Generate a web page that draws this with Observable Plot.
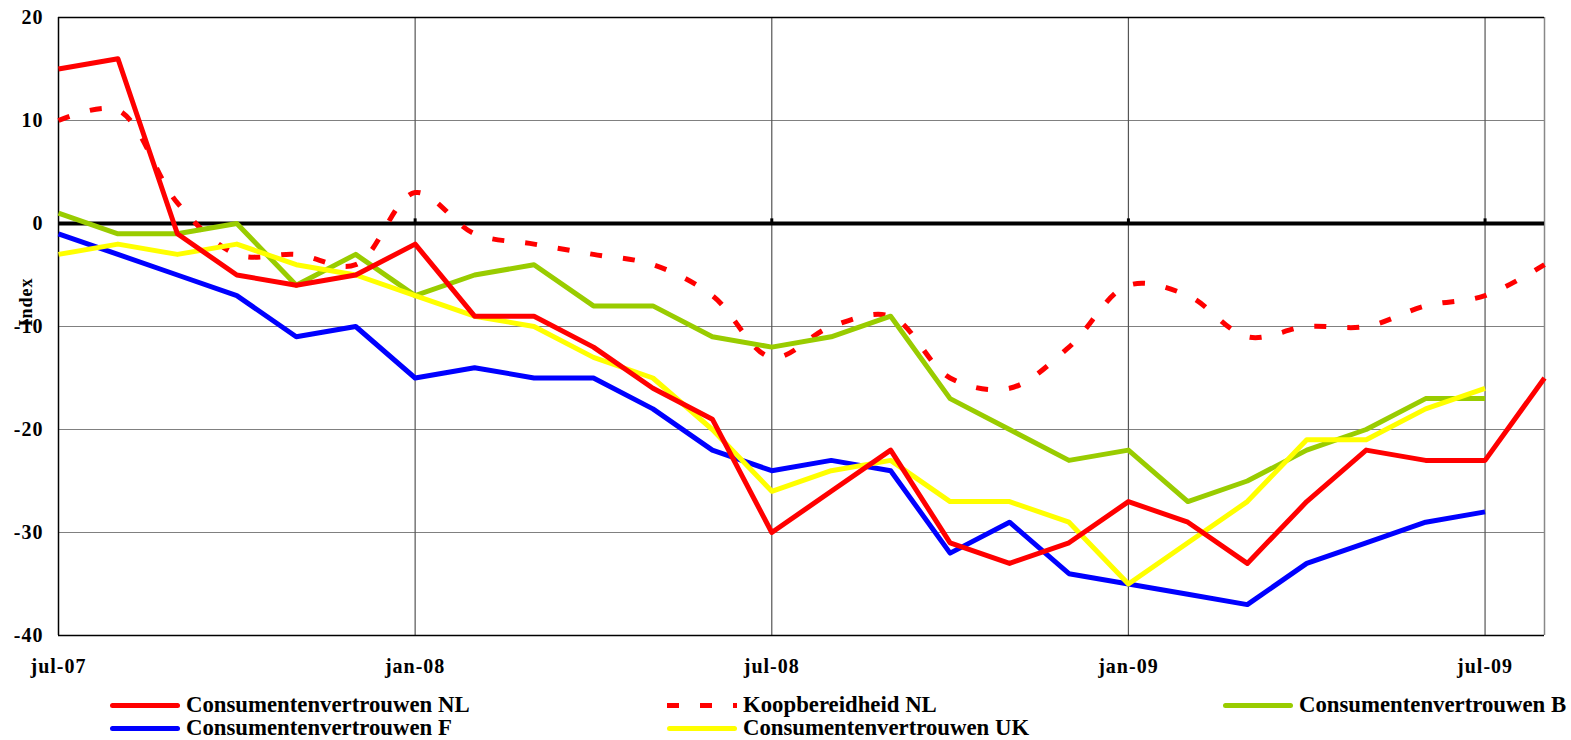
<!DOCTYPE html>
<html>
<head>
<meta charset="utf-8">
<script src="https://cdn.jsdelivr.net/npm/d3@7"></script>
<script src="https://cdn.jsdelivr.net/npm/@observablehq/plot@0.6"></script>
<style>
  html, body { margin: 0; padding: 0; background: #fff; }
  #wrap { position: relative; width: 1571px; height: 740px; }
  #chart svg text { letter-spacing: 1px; }
  .leg { position: absolute; height: 22px; display: flex; align-items: center; white-space: nowrap; }
  .sw { width: 70px; height: 5px; border-radius: 2.5px; flex: none; }
  .sw.dash { border-radius: 0; background: repeating-linear-gradient(to right, #ff0000 0 12px, transparent 12px 33px); }
  .lt { display: inline-block; margin-left: 6px; font-family: 'Liberation Serif', 'Times New Roman', serif; font-weight: bold; font-size: 23px; line-height: 22px; height: 22px; color: #000; transform: scaleX(0.99); transform-origin: left center; }
</style>
</head>
<body>
<div id="wrap">
  <div id="chart"></div>
  <div id="legend"></div>
</div>
<script>
// Months (x categories)
const months = ["jul-07","aug-07","sep-07","okt-07","nov-07","dec-07","jan-08","feb-08","mrt-08","apr-08","mei-08","jun-08","jul-08","aug-08","sep-08","okt-08","nov-08","dec-08","jan-09","feb-09","mrt-09","apr-09","mei-09","jun-09","jul-09","aug-09"];
const xTickLabels = ["jul-07","jan-08","jul-08","jan-09","jul-09"];
const yTicks = [20, 10, 0, -10, -20, -30, -40];

// Series values
const consNL = [15,16,-1,-5,-6,-5,-2,-9,-9,-12,-16,-19,-30,-26,-22,-31,-33,-31,-27,-29,-33,-27,-22,-23,-23,-15];
const koopNL = [10,11,2,-3,-3,-4,3,-1,-2,-3,-4,-7,-13,-10,-9,-15,-16,-12,-6,-7,-11,-10,-10,-8,-7,-4];
const consB  = [1,-1,-1,0,-6,-3,-7,-5,-4,-8,-8,-11,-12,-11,-9,-17,-20,-23,-22,-27,-25,-22,-20,-17,-17];
const consF  = [-1,-3,-5,-7,-11,-10,-15,-14,-15,-15,-18,-22,-24,-23,-24,-32,-29,-34,-35,-36,-37,-33,-31,-29,-28];
const consUK = [-3,-2,-3,-2,-4,-5,-7,-9,-10,-13,-15,-20,-26,-24,-23,-27,-27,-29,-35,-31,-27,-21,-21,-18,-16];

const seriesNames = ["Consumentenvertrouwen NL","Koopbereidheid NL","Consumentenvertrouwen B","Consumentenvertrouwen F","Consumentenvertrouwen UK"];
const seriesValues = [consNL, koopNL, consB, consF, consUK];
const seriesColors = ["#ff0000","#ff0000","#99cc00","#0000ff","#ffff00"];
const seriesDashed = [false, true, false, false, false];

const xTicks = months.map((m, i) => i).filter(i => xTickLabels.includes(months[i]));
const xDomain = [0, months.length - 1];
const font = "'Liberation Serif', 'Times New Roman', serif";

const rows = s => seriesValues[s].map((v, i) => ({month: i, value: v})).filter(d => d.value != null);

const lineMarks = [];
[1, 2, 3, 4, 0].forEach(s => {
  lineMarks.push(Plot.line(rows(s), {
    x: "month", y: "value",
    stroke: seriesColors[s],
    strokeWidth: 5,
    strokeDasharray: seriesDashed[s] ? "12,21" : null,
    strokeLinecap: "butt",
    strokeLinejoin: "round",
    curve: seriesDashed[s] ? "catmull-rom" : "linear"
  }));
});

const chart = Plot.plot({
  width: 1571,
  height: 685,
  marginLeft: 58,
  marginRight: 27,
  marginTop: 17,
  marginBottom: 50,
  x: {type: "linear", domain: xDomain},
  y: {domain: [-40, 20]},
  style: {fontFamily: font, fontWeight: "bold", color: "#000", background: "#fff", overflow: "visible"},
  marks: [
    Plot.ruleY(yTicks.filter(v => v !== 0 && v !== 20 && v !== -40), {stroke: "#808080", strokeWidth: 1.2, strokeOpacity: 1}),
    Plot.ruleX(xTicks.filter(i => i !== 0), {stroke: "#555", strokeWidth: 1.2, strokeOpacity: 1}),
    Plot.ruleX([xDomain[1]], {stroke: "#888", strokeWidth: 1.5, strokeOpacity: 1}),
    Plot.ruleY([20, -40], {stroke: "#000", strokeWidth: 1.5, strokeOpacity: 1}),
    Plot.ruleX([0], {stroke: "#000", strokeWidth: 1.5, strokeOpacity: 1}),
    Plot.ruleY([0], {stroke: "#000", strokeWidth: 4, strokeOpacity: 1}),
    Plot.ruleX(xTicks.filter(i => i !== 0), {y1: 0, y2: 0.45, stroke: "#000", strokeWidth: 3, strokeOpacity: 1}),
    ...lineMarks,
    Plot.axisY({ticks: yTicks, tickFormat: d => String(d), tickSize: 0, tickPadding: 15, fontSize: 20, label: null}),
    Plot.axisX({ticks: xTicks, tickFormat: i => months[i], tickSize: 0, tickPadding: 23, fontSize: 20, label: null}),
    Plot.text(["Index"], {frameAnchor: "left", dx: -32, rotate: -90, fontSize: 18, fontWeight: "bold", fill: "#000"})
  ]
});
document.getElementById("chart").appendChild(chart);

// Legend (HTML, below the SVG)
const legendPos = [
  {s: 0, x: 110, y: 705},
  {s: 1, x: 667, y: 705},
  {s: 2, x: 1223, y: 705},
  {s: 3, x: 110, y: 728},
  {s: 4, x: 667, y: 728}
];
const legend = document.getElementById("legend");
legendPos.forEach(p => {
  const item = document.createElement("div");
  item.className = "leg";
  item.style.left = p.x + "px";
  item.style.top = (p.y - 11) + "px";
  const sw = document.createElement("div");
  sw.className = "sw" + (seriesDashed[p.s] ? " dash" : "");
  if (!seriesDashed[p.s]) sw.style.background = seriesColors[p.s];
  const t = document.createElement("span");
  t.className = "lt";
  t.textContent = seriesNames[p.s];
  item.appendChild(sw);
  item.appendChild(t);
  legend.appendChild(item);
});
</script>
</body>
</html>
